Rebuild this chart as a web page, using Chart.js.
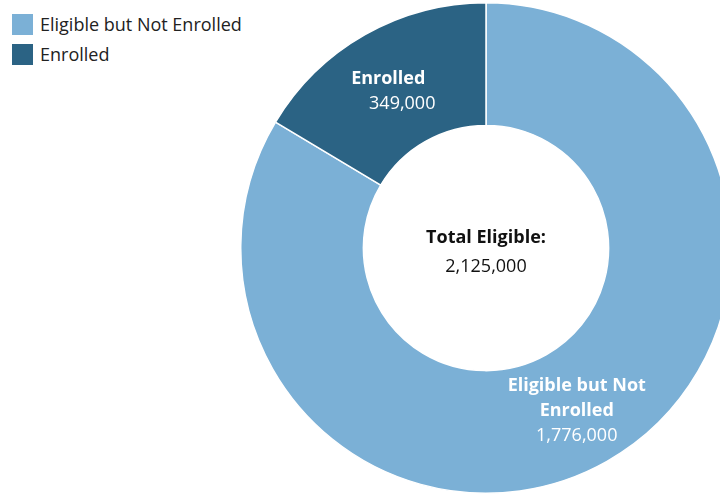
<!DOCTYPE html>
<html>
<head>
<meta charset="utf-8">
<script src="https://cdn.jsdelivr.net/npm/chart.js@4.4.1/dist/chart.umd.min.js"></script>
<style>
  html, body { margin: 0; padding: 0; background: #fff; overflow: hidden; }
  #wrap { position: relative; width: 720px; height: 495px; overflow: hidden; }
  #enrollment_chart { position: absolute; left: 0; top: 0; }
  #legend { position: absolute; left: 12px; top: 9px; font-family: "Open Sans", sans-serif; font-size: 18px; color: #222; }
  #legend .item { display: flex; align-items: center; height: 30px; }
  #legend .swatch { width: 21px; height: 21px; margin-right: 7px; }
</style>
</head>
<body>
<div id="wrap">
  <div id="legend"></div>
  <canvas id="enrollment_chart" width="760" height="495"></canvas>
</div>
<script>
// enrollment split
const categories = ['Eligible but Not Enrolled', 'Enrolled'];
const enrollment = [1776000, 349000];
const colors = ['#7bb0d6', '#2b6384'];
// text drawn on each slice, one entry per line
const sliceLines = [
    ['Eligible but Not', 'Enrolled', '1,776,000'],
    ['Enrolled', '349,000']
];
const totalLines = ['Total Eligible:', '2,125,000'];

// html legend, stacked top-left
let legend = document.getElementById('legend');
categories.forEach(function(name, i) {
    let item = document.createElement('div');
    item.className = 'item';
    item.innerHTML = '<span class="swatch" style="background:' + colors[i] + '"></span>' + name;
    legend.appendChild(item);
});

const sliceLabels = {
    id: 'sliceLabels',
    afterDatasetsDraw(chart) {
        let ctx = chart.ctx;
        let meta = chart.getDatasetMeta(0);
        ctx.save();
        ctx.textAlign = 'center';
        ctx.textBaseline = 'middle';
        ctx.fillStyle = '#fff';
        meta.data.forEach(function(arc, i) {
            let pos = arc.tooltipPosition();
            let lines = sliceLines[i];
            let lineH = 25;
            let y0 = pos.y + 3 - (lines.length - 1) * lineH / 2;
            lines.forEach(function(txt, j) {
                let last = j == lines.length - 1;
                ctx.font = (last ? '400 ' : '700 ') + '18px "Open Sans"';
                // the short label sits a bit staggered
                let dx = lines.length == 2 ? (last ? 7 : -7) : 0;
                ctx.fillText(txt, pos.x + dx, y0 + j * lineH);
            });
        });
        // total in the hole
        let c = meta.data[0];
        ctx.fillStyle = '#111';
        ctx.font = '700 18px "Open Sans"';
        ctx.fillText(totalLines[0], c.x, c.y - 10);
        ctx.font = '400 18px "Open Sans"';
        ctx.fillText(totalLines[1], c.x, c.y + 19);
        ctx.restore();
    }
};

let chart = new Chart(document.getElementById('enrollment_chart'), {
    type: 'doughnut',
    data: {
        labels: categories,
        datasets: [{
            data: enrollment,
            backgroundColor: colors,
            borderColor: '#fff',
            borderWidth: 1.5,
            hoverOffset: 0
        }]
    },
    options: {
        responsive: false,
        animation: false,
        cutout: '50%',
        layout: { padding: { left: 240, top: 2, right: 28, bottom: 1 } },
        plugins: {
            legend: { display: false },
            tooltip: { enabled: false }
        }
    },
    plugins: [sliceLabels]
});
</script>
</body>
</html>
